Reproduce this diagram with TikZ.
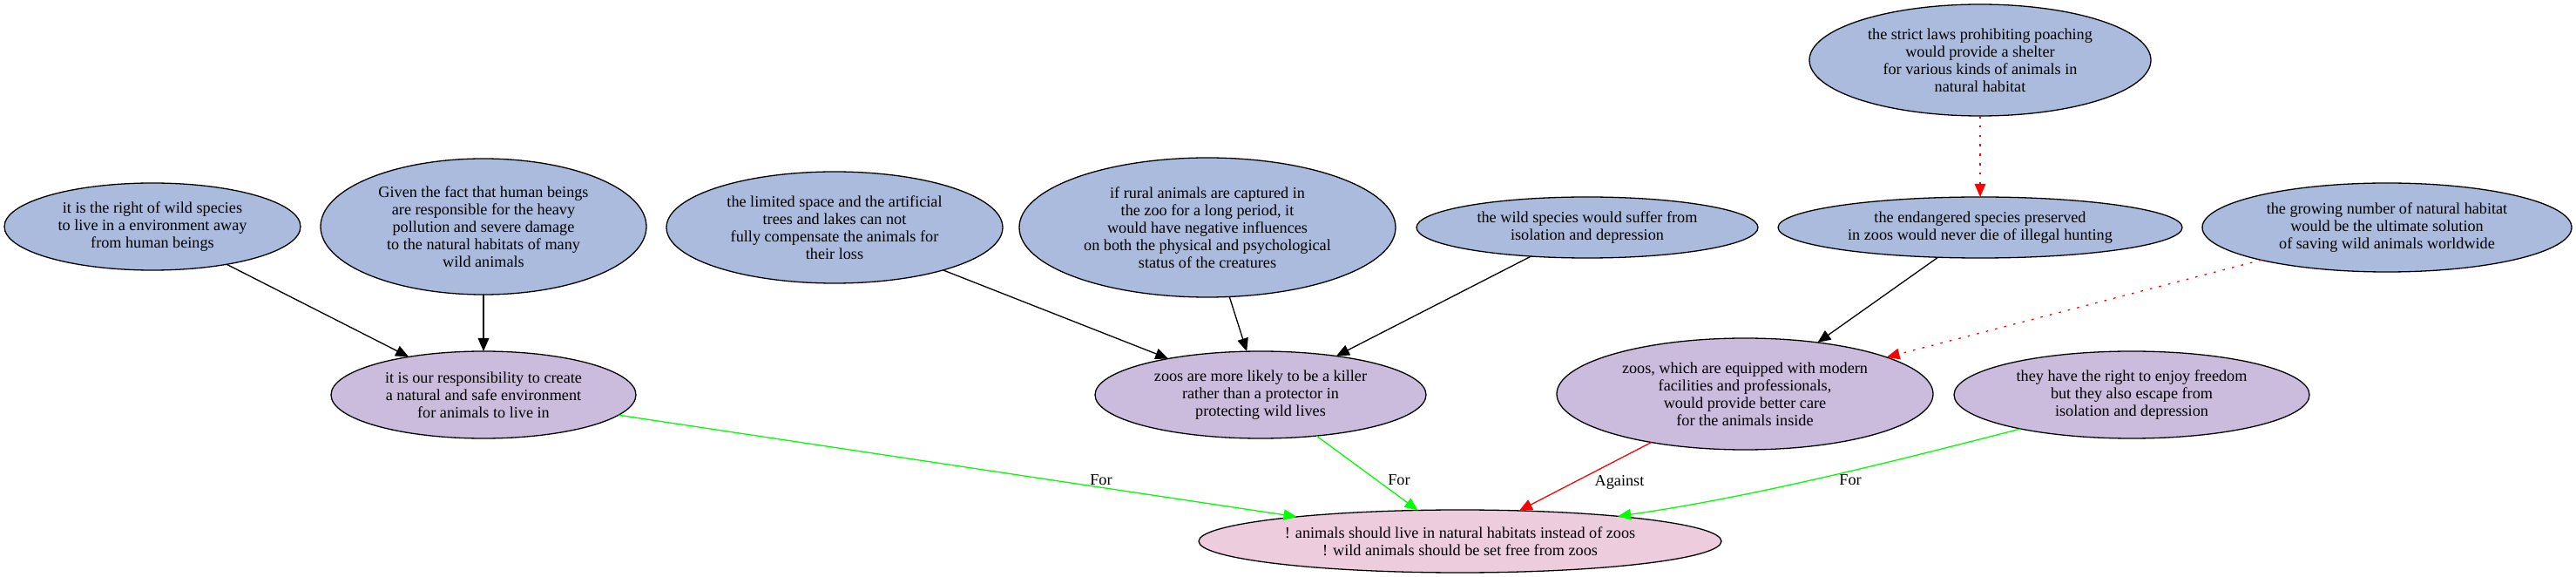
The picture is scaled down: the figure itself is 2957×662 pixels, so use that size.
\documentclass[tikz,border=0pt]{standalone}
\usepackage{fontspec}
\setmainfont{Liberation Serif}
\usetikzlibrary{shapes.geometric,arrows.meta}
\definecolor{premfill}{HTML}{AABBDD}
\definecolor{midfill}{HTML}{CBBBDD}
\definecolor{rootfill}{HTML}{ECCCDD}
\definecolor{forgreen}{HTML}{00FF00}
\definecolor{agred}{HTML}{FF0000}
\tikzset{
  txt/.style={font=\fontsize{9.1pt}{10pt}\selectfont},
  arg/.style={ellipse, draw=black, line width=0.65pt, inner sep=-300pt, outer sep=0pt, align=center, txt},
  prem/.style={arg, fill=premfill},
  midarg/.style={arg, fill=midfill},
  root/.style={arg, fill=rootfill},
  sz/.style 2 args={minimum width=#1pt, minimum height=#2pt},
  conn/.style={line width=0.65pt, -{Triangle[length=7.5pt,width=6.3pt]}},
  support/.style={conn, draw=black},
  pro/.style={conn, draw=forgreen},
  con/.style={conn, draw=agred},
  attack/.style={conn, draw=agred, dash pattern=on 1.3pt off 4.1pt},
  lbl/.style={txt, inner sep=0pt}
}
\begin{document}
\begin{tikzpicture}[x=0.5pt, y=-0.5pt]
\useasboundingbox[fill=white] (0,0) rectangle (2957,662);
% top
\node[prem, sz={196}{64}] (t) at (2273,69) {the strict laws prohibiting poaching\\would provide a shelter\\for various kinds of animals in\\natural habitat};
% rank 1
\node[prem, sz={170}{50}] (n1) at (175,260) {it is the right of wild species\\to live in a environment away\\from human beings};
\node[prem, sz={187}{78}] (n2) at (555,260) {Given the fact that human beings\\are responsible for the heavy\\pollution and severe damage\\to the natural habitats of many\\wild animals};
\node[prem, sz={193}{64}] (n3) at (958,261) {the limited space and the artificial\\trees and lakes can not\\fully compensate the animals for\\their loss};
\node[prem, sz={216}{80}] (n4) at (1386,261) {if rural animals are captured in\\the zoo for a long period, it\\would have negative influences\\on both the physical and psychological\\status of the creatures};
\node[prem, sz={196}{35}] (n5) at (1822,261) {the wild species would suffer from\\isolation and depression};
\node[prem, sz={232}{35}] (n6) at (2273,261) {the endangered species preserved\\in zoos would never die of illegal hunting};
\node[prem, sz={212}{51}] (n7) at (2740,261) {the growing number of natural habitat\\would be the ultimate solution\\of saving wild animals worldwide};
% rank 2
\node[midarg, sz={175}{50}] (m1) at (555,453) {it is our responsibility to create\\a natural and safe environment\\for animals to live in};
\node[midarg, sz={190}{50}] (m2) at (1447,453) {zoos are more likely to be a killer\\rather than a protector in\\protecting wild lives};
\node[midarg, sz={216}{64}] (m3) at (2003,452) {zoos, which are equipped with modern\\facilities and professionals,\\would provide better care\\for the animals inside};
\node[midarg, sz={204}{50}] (m4) at (2447,453) {they have the right to enjoy freedom\\but they also escape from\\isolation and depression};
% root
\node[root, sz={300}{36}] (b) at (1676,621) {! animals should live in natural habitats instead of zoos\\! wild animals should be set free from zoos};
% connectors
\draw[attack] (t) -- (n6);
\draw[support] (n1) -- (m1);
\draw[support] (n2) -- (m1);
\draw[support] (n3) -- (m2);
\draw[support] (n4) -- (m2);
\draw[support] (n5) -- (m2);
\draw[support] (n6) -- (m3);
\draw[attack] (n7) -- (m3);
\draw[pro] (m1) -- (b);
\draw[pro] (m2) -- (b);
\draw[con] (m3) -- (b);
\draw[pro] (m4.197.6) .. controls (2171,530) and (2013,570) .. (b.9.4);
% labels
\node[lbl] (l1) at (1264,551) {For};
\node[lbl] (l2) at (1606,551) {For};
\node[lbl] (l3) at (1859,553) {Against};
\node[lbl] (l4) at (2124,551) {For};
\end{tikzpicture}
\end{document}
